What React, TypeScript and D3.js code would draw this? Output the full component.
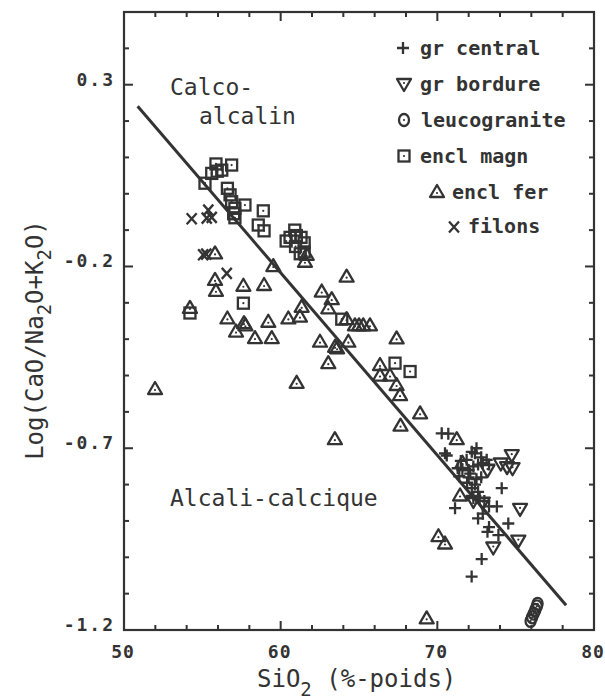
import React from "react";
import * as d3 from "d3";

type P = [number, number];

const xTicksMajor = [50, 60, 70, 80];
const yTicksMajor = [0.3, -0.2, -0.7, -1.2];
const yTickLabels = ["0.3", "-0.2", "-0.7", "-1.2"];

const boundaryLine: P[] = [[50.87, 0.241], [78.22, -1.132]];

const grCentral: P[] = [
  [70.28, -0.659], [70.7, -0.66], [70.49, -0.714], [70.6, -0.72], [71.5, -0.735], [71.87, -0.732],
  [72.2, -0.71], [72.4, -0.714], [72.5, -0.7], [72.8, -0.725], [73.15, -0.732], [71.3, -0.755],
  [71.6, -0.76], [72.0, -0.76], [72.3, -0.75], [72.6, -0.745], [72.9, -0.74], [73.3, -0.745],
  [71.4, -0.777], [72.0, -0.78], [72.5, -0.785], [72.8, -0.78], [72.4, -0.8], [72.2, -0.81],
  [72.6, -0.82], [74.11, -0.81], [72.3, -0.837], [72.7, -0.837], [73.0, -0.845], [73.3, -0.86],
  [73.8, -0.86], [71.13, -0.865], [72.6, -0.893], [73.3, -0.917], [73.2, -0.93], [74.53, -0.907],
  [73.9, -0.939], [72.83, -1.005], [72.19, -1.053], [72.9, -0.88], [71.9, -0.795], [72.1, -0.77],
];

const grBordure: P[] = [
  [74.75, -0.719], [74.05, -0.742], [74.45, -0.752], [74.8, -0.755], [75.28, -0.867], [75.17, -0.954],
  [73.57, -0.973], [72.3, -0.845], [73.2, -0.76], [72.9, -0.85],
];

const leucogranite: P[] = [
  [75.95, -1.175], [76.05, -1.165], [76.15, -1.155], [76.25, -1.145], [76.35, -1.135], [76.4, -1.128],
];

const enclMagn: P[] = [
  [55.87, 0.082], [56.87, 0.079], [56.24, 0.065], [55.6, 0.056], [55.95, 0.062], [55.17, 0.029],
  [56.6, 0.015], [56.77, -0.003], [56.87, -0.022], [57.72, -0.031], [57.08, -0.04], [57.0, -0.055],
  [57.08, -0.066], [58.89, -0.047], [58.57, -0.086], [58.94, -0.102], [60.35, -0.13], [60.6, -0.12],
  [60.9, -0.1], [61.0, -0.115], [61.3, -0.12], [61.5, -0.135], [60.95, -0.145], [61.5, -0.16],
  [61.25, -0.165], [57.62, -0.301], [54.21, -0.328], [63.9, -0.345], [67.3, -0.466], [68.26, -0.489],
];

const enclFer: P[] = [
  [51.98, -0.537], [54.21, -0.314], [55.81, -0.164], [55.81, -0.237], [55.87, -0.267], [56.6, -0.343],
  [57.15, -0.379], [57.62, -0.253], [57.66, -0.356], [57.75, -0.362], [58.36, -0.397], [58.94, -0.251],
  [59.21, -0.352], [59.43, -0.397], [59.53, -0.199], [60.49, -0.343], [61.02, -0.52], [61.23, -0.338],
  [61.34, -0.311], [61.55, -0.187], [61.66, -0.168], [62.51, -0.407], [62.62, -0.269], [63.04, -0.315],
  [63.04, -0.466], [63.26, -0.29], [63.46, -0.675], [63.47, -0.421], [63.6, -0.425], [64.21, -0.228],
  [64.21, -0.345], [64.32, -0.407], [64.74, -0.362], [65.0, -0.362], [65.27, -0.362], [65.7, -0.362],
  [66.34, -0.471], [66.34, -0.5], [66.98, -0.5], [67.4, -0.398], [67.4, -0.526], [67.62, -0.554],
  [67.65, -0.638], [68.9, -0.604], [69.32, -1.168], [70.07, -0.942], [70.49, -0.962], [71.24, -0.675],
  [71.45, -0.83], [71.6, -0.74],
];

const filons: P[] = [
  [54.32, -0.069], [55.38, -0.045], [55.28, -0.067], [55.6, -0.065], [55.05, -0.168], [55.25, -0.166],
  [56.56, -0.219],
];

const INK = "#333";
const FONT = "'DejaVu Sans Mono', monospace";

const W = 605, H = 699;
const x = d3.scaleLinear().domain([50, 80]).range([124, 594]);
const y = d3.scaleLinear().domain([-1.2, 0.5]).range([630, 12]);

type Kind = "plus" | "tridown" | "circle" | "square" | "triup" | "x";

function Marker({ kind, cx, cy }: { kind: Kind; cx: number; cy: number }) {
  const sw = 2.3;
  const dot = <circle cx={cx} cy={cy} r={1.1} fill={INK} />;
  switch (kind) {
    case "plus":
      return (
        <path d={`M${cx - 6},${cy}H${cx + 6}M${cx},${cy - 6}V${cy + 6}`} stroke={INK} strokeWidth={sw} fill="none" />
      );
    case "x":
      return (
        <path d={`M${cx - 5},${cy - 5.5}L${cx + 5},${cy + 5.5}M${cx + 5},${cy - 5.5}L${cx - 5},${cy + 5.5}`} stroke={INK} strokeWidth={sw} fill="none" />
      );
    case "square":
      return (
        <g>
          <rect x={cx - 5.5} y={cy - 5.5} width={11} height={11} stroke={INK} strokeWidth={sw} fill="none" />
          {dot}
        </g>
      );
    case "circle":
      return (
        <g>
          <ellipse cx={cx} cy={cy} rx={5} ry={6} stroke={INK} strokeWidth={sw} fill="none" />
          {dot}
        </g>
      );
    case "triup":
      return (
        <g>
          <path d={`M${cx},${cy - 7}L${cx + 7},${cy + 5}L${cx - 7},${cy + 5}Z`} stroke={INK} strokeWidth={sw} fill="none" strokeLinejoin="round" />
          <circle cx={cx} cy={cy + 1} r={1.1} fill={INK} />
        </g>
      );
    case "tridown":
      return (
        <g>
          <path d={`M${cx - 7},${cy - 5}L${cx + 7},${cy - 5}L${cx},${cy + 7}Z`} stroke={INK} strokeWidth={sw} fill="none" strokeLinejoin="round" />
          <circle cx={cx} cy={cy - 1} r={1.1} fill={INK} />
        </g>
      );
  }
}

const series: { kind: Kind; data: P[] }[] = [
  { kind: "square", data: enclMagn },
  { kind: "triup", data: enclFer },
  { kind: "x", data: filons },
  { kind: "circle", data: leucogranite },
  { kind: "tridown", data: grBordure },
  { kind: "plus", data: grCentral },
];

const legendItems: { kind: Kind; label: string; sx: number; sy: number; tx: number; ty: number }[] = [
  { kind: "plus", label: "gr central", sx: 403, sy: 48, tx: 420, ty: 55 },
  { kind: "tridown", label: "gr bordure", sx: 404, sy: 84, tx: 420, ty: 91 },
  { kind: "circle", label: "leucogranite", sx: 404, sy: 120, tx: 421, ty: 127 },
  { kind: "square", label: "encl magn", sx: 404, sy: 156, tx: 420, ty: 163 },
  { kind: "triup", label: "encl fer", sx: 437, sy: 192, tx: 452, ty: 199 },
  { kind: "x", label: "filons", sx: 454, sy: 227, tx: 468, ty: 233 },
];

export default function App() {
  const [x0, x1] = x.range();
  const [y0, y1] = y.range();
  const xMinor = d3.range(50, 80.01, 2);
  const yMinor = d3.range(-1.2, 0.501, 0.1).map((v) => Math.round(v * 10) / 10);
  const line = d3.line<P>().x((d) => x(d[0])).y((d) => y(d[1]));

  return (
    <svg width={W} height={H} style={{ position: "absolute", left: 0, top: 0, background: "#fff" }} fontFamily={FONT}>
      <rect x={0} y={0} width={W} height={H} fill="#fff" />
      <rect x={x0} y={y1} width={x1 - x0} height={y0 - y1} fill="none" stroke={INK} strokeWidth={2.2} />
      {xMinor.map((v) => {
        const major = v % 10 === 0;
        const len = major ? 9 : 5;
        return (
          <g key={"xt" + v}>
            <line x1={x(v)} x2={x(v)} y1={y0} y2={y0 - len} stroke={INK} strokeWidth={2} />
            <line x1={x(v)} x2={x(v)} y1={y1} y2={y1 + len} stroke={INK} strokeWidth={2} />
          </g>
        );
      })}
      {yMinor.map((v) => {
        const major = yTicksMajor.some((t) => Math.abs(t - v) < 1e-6);
        const len = major ? 9 : 5;
        return (
          <g key={"yt" + v}>
            <line x1={x0} x2={x0 + len} y1={y(v)} y2={y(v)} stroke={INK} strokeWidth={2} />
            <line x1={x1} x2={x1 - len} y1={y(v)} y2={y(v)} stroke={INK} strokeWidth={2} />
          </g>
        );
      })}
      {xTicksMajor.map((v) => (
        <text key={"xl" + v} x={x(v) - 1} y={658} textAnchor="middle" fontSize={18} fontWeight="bold" fill={INK} letterSpacing={1}>
          {String(v)}
        </text>
      ))}
      {yTicksMajor.map((v, i) => (
        <text key={"yl" + v} x={115} y={y(v) + 1} textAnchor="end" fontSize={18} fontWeight="bold" fill={INK} letterSpacing={2}>
          {yTickLabels[i]}
        </text>
      ))}
      <text x={257} y={687} fontSize={24} fill={INK}>
        SiO<tspan fontSize={19} dy={9}>2</tspan>
        <tspan dy={-9}> (%-poids)</tspan>
      </text>
      <text transform="translate(43,340) rotate(-90)" textAnchor="middle" fontSize={24} fill={INK}>
        Log(CaO/Na<tspan fontSize={19} dy={8}>2</tspan>
        <tspan dy={-8}>O+K</tspan>
        <tspan fontSize={19} dy={8}>2</tspan>
        <tspan dy={-8}>O)</tspan>
      </text>
      <path d={line(boundaryLine) || ""} stroke={INK} strokeWidth={3} fill="none" />
      <text x={170} y={95} fontSize={23} fill={INK}>Calco-</text>
      <text x={199} y={124} fontSize={23} fill={INK}>alcalin</text>
      <text x={170} y={506} fontSize={23} fill={INK}>Alcali-calcique</text>
      {series.map((s) =>
        s.data.map((d, i) => <Marker key={s.kind + i} kind={s.kind} cx={x(d[0])} cy={y(d[1])} />)
      )}
      {legendItems.map((it) => (
        <g key={it.label}>
          <Marker kind={it.kind} cx={it.sx} cy={it.sy} />
          <text x={it.tx} y={it.ty} fontSize={20} fontWeight="bold" fill={INK}>
            {it.label}
          </text>
        </g>
      ))}
    </svg>
  );
}
